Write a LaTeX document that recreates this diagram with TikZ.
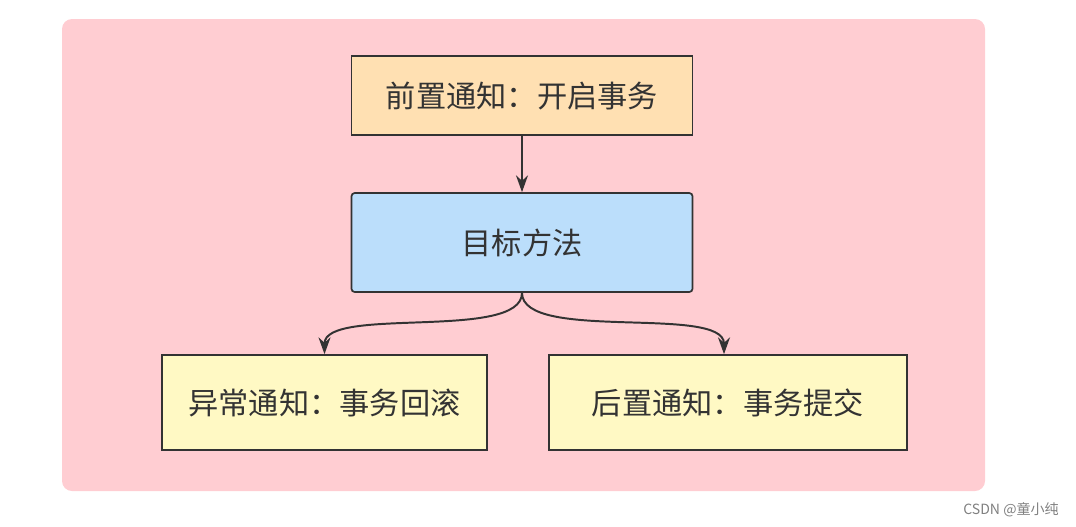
\documentclass[tikz,border=0pt]{standalone}
\usepackage{fontspec}
\setmainfont{Noto Sans CJK SC}
\usetikzlibrary{shapes.geometric, arrows, arrows.meta}
\definecolor{bgPink}{HTML}{FFCDD2}
\definecolor{preFill}{HTML}{FFE0B2}
\definecolor{tgtFill}{HTML}{BBDEFB}
\definecolor{sufFill}{HTML}{FFF9C4}
\definecolor{lineGray}{HTML}{333333}
\tikzstyle{recNode} = [rectangle, minimum height=2.375cm, text centered, draw=lineGray, line width=1.2pt, text=lineGray, font=\fontsize{21.5}{25}\selectfont, inner sep=0pt]
\tikzstyle{recNodeO} = [recNode, fill=preFill, minimum width=8.525cm, minimum height=1.975cm]
\tikzstyle{recNodeB} = [recNode, fill=tgtFill, minimum width=8.525cm, minimum height=2.475cm, rounded corners=0.08cm]
\tikzstyle{recNodeY} = [recNode, fill=sufFill]
\tikzstyle{arrowG} = [line width=1.4pt,->,>={Stealth[length=0.42cm,width=0.3cm]},draw=lineGray]

\begin{document}
\begin{tikzpicture}[node distance=4cm]
        \useasboundingbox (0,0) rectangle (26.9,-13.15);
        \fill [bgPink, rounded corners=0.25cm] (1.55,-0.475) rectangle (24.625,-12.275);

        \node (pre) [recNodeO] at (13.05,-2.3875) {前置通知：开启事务};
        \node (target) [recNodeB, below of=pre, yshift=0.325cm] {目标方法};
        \node (exc) [recNodeY, below of=target, xshift=-4.9375cm, minimum width=8.125cm] {异常通知：事务回滚};
        \node (post) [recNodeY, below of=target, xshift=5.15cm, minimum width=8.95cm] {后置通知：事务提交};
        \node (mark) [text=gray, font=\fontsize{10}{12}\selectfont] at (25.275,-12.75) {CSDN @童小纯};

        \draw [arrowG] (pre) -- (target);
        \draw [arrowG] (target.south) to[out=-90, in=90, looseness=0.6] (exc.north);
        \draw [arrowG] (target.south) to[out=-90, in=90, looseness=0.6] ([xshift=-0.1cm]post.north);
    \end{tikzpicture}
\end{document}
